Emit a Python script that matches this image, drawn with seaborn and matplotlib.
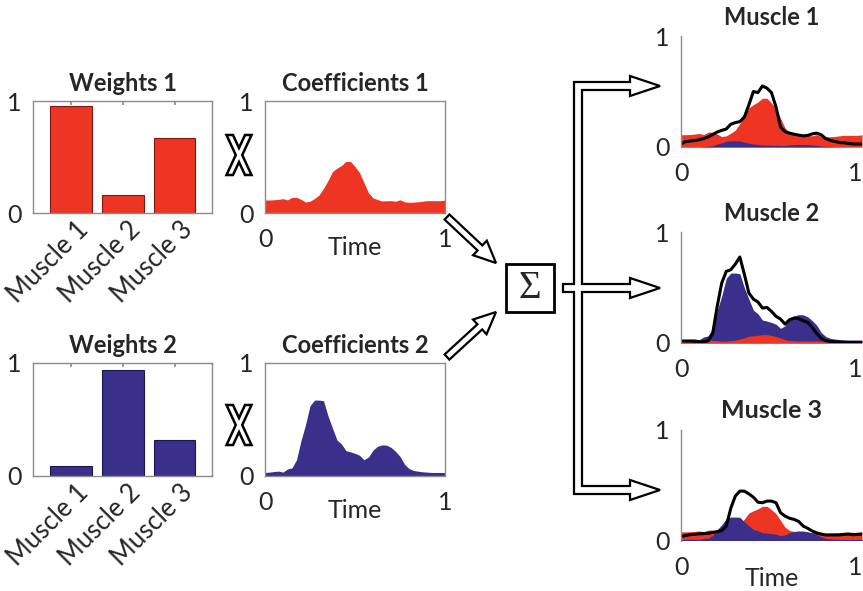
import numpy as np
import matplotlib
matplotlib.use("Agg")
import matplotlib.pyplot as plt
import matplotlib.transforms as mtransforms
from matplotlib.patches import FancyArrow, Polygon, Rectangle
import seaborn as sns

# ---------------- data ----------------
muscles = ["Muscle 1", "Muscle 2", "Muscle 3"]
weights_1 = [0.955, 0.163, 0.67]
weights_2 = [0.083, 0.94, 0.315]

time = np.linspace(0, 1, 41)

coef_1 = [0.116, 0.116, 0.118, 0.122, 0.128, 0.117, 0.140, 0.140, 0.122, 0.098,
          0.105, 0.130, 0.160, 0.220, 0.290, 0.370, 0.400, 0.425, 0.460, 0.460,
          0.415, 0.360, 0.270, 0.180, 0.135, 0.120, 0.107, 0.110, 0.110, 0.105,
          0.118, 0.100, 0.095, 0.097, 0.100, 0.105, 0.110, 0.110, 0.110, 0.110,
          0.115]

coef_2 = [0.027, 0.030, 0.035, 0.039, 0.030, 0.058, 0.068, 0.140, 0.310, 0.450,
          0.620, 0.670, 0.670, 0.665, 0.530, 0.420, 0.315, 0.280, 0.220, 0.210,
          0.197, 0.180, 0.140, 0.165, 0.225, 0.260, 0.272, 0.270, 0.250, 0.215,
          0.170, 0.100, 0.062, 0.045, 0.038, 0.033, 0.030, 0.027, 0.027, 0.027,
          0.027]

emg_muscle_1 = [0.027, 0.048, 0.053, 0.058, 0.065, 0.076, 0.090, 0.113, 0.135, 0.150,
                0.162, 0.205, 0.220, 0.228, 0.270, 0.380, 0.500, 0.490, 0.550, 0.530,
                0.490, 0.360, 0.180, 0.138, 0.125, 0.115, 0.107, 0.100, 0.105, 0.118,
                0.125, 0.110, 0.075, 0.060, 0.050, 0.040, 0.038, 0.032, 0.027, 0.027,
                0.027]

emg_muscle_2 = [0.018, 0.018, 0.018, 0.015, 0.012, 0.012, 0.020, 0.085, 0.330, 0.540,
                0.645, 0.660, 0.710, 0.775, 0.620, 0.450, 0.395, 0.370, 0.315, 0.320,
                0.285, 0.240, 0.215, 0.170, 0.210, 0.225, 0.220, 0.200, 0.185, 0.140,
                0.085, 0.042, 0.020, 0.013, 0.010, 0.008, 0.006, 0.006, 0.006, 0.006,
                0.006]

emg_muscle_3 = [0.035, 0.045, 0.052, 0.056, 0.060, 0.062, 0.065, 0.072, 0.080, 0.090,
                0.130, 0.290, 0.400, 0.445, 0.445, 0.420, 0.390, 0.345, 0.340, 0.355,
                0.355, 0.340, 0.250, 0.220, 0.200, 0.190, 0.172, 0.130, 0.110, 0.085,
                0.068, 0.058, 0.050, 0.050, 0.050, 0.050, 0.055, 0.058, 0.052, 0.055,
                0.058]

emg = [emg_muscle_1, emg_muscle_2, emg_muscle_3]

# ---------------- style ----------------
sns.set_theme(style="white")
plt.rcParams["font.family"] = ["Lato", "DejaVu Sans"]

RED = "#EE3524"
BLUE = "#3A2F8A"
SPINE = "#8C8C8C"

W, H = 863, 591
fig = plt.figure(figsize=(W / 100, H / 100), dpi=100)
fig.patch.set_facecolor("white")


def rect(l, t, r, b):
    return [l / W, 1 - b / H, (r - l) / W, (b - t) / H]


def boxed(ax):
    for s in ax.spines.values():
        s.set_visible(True)
        s.set_color(SPINE)
        s.set_linewidth(1.0)


def weights_panel(box, values, color, edge, title):
    ax = fig.add_axes(rect(*box))
    sns.barplot(x=muscles, y=values, color=color, saturation=1, width=0.8,
                edgecolor=edge, linewidth=0.8, ax=ax)
    ax.set_xlim(-0.73, 2.72)
    ax.set_ylim(0, 1)
    ax.set_yticks([0, 1])
    ax.set_yticklabels(["0", "1"], fontsize=18)
    ax.set_xticks([0, 1, 2])
    ax.set_xticklabels([])
    ax.tick_params(axis="x", direction="in", length=3, color=SPINE, top=True, bottom=True)
    ax.tick_params(axis="y", length=0, pad=8)
    ax.set_xlabel("")
    ax.set_ylabel("")
    boxed(ax)
    ax.set_title(title, fontsize=17, fontweight="bold", pad=7)
    trans = mtransforms.blended_transform_factory(ax.transData, ax.transAxes) + \
        mtransforms.ScaledTranslation(0.14, -0.13, fig.dpi_scale_trans)
    for i, name in enumerate(muscles):
        ax.text(i, 0, name, transform=trans, rotation=45, ha="right", va="center",
                rotation_mode="anchor", fontsize=18.5)
    return ax


def coef_panel(box, values, color, title):
    ax = fig.add_axes(rect(*box))
    ax.fill_between(time, 0, values, color=color, linewidth=0)
    ax.set_xlim(0, 1)
    ax.set_ylim(0, 1)
    ax.set_xticks([0, 1])
    ax.set_xticklabels(["0", "1"], fontsize=18)
    ax.set_yticks([0, 1])
    ax.set_yticklabels(["0", "1"], fontsize=18)
    ax.tick_params(axis="x", length=0, pad=11)
    ax.tick_params(axis="y", length=0, pad=8)
    boxed(ax)
    ax.set_title(title, fontsize=17, fontweight="bold", pad=7)
    ax.set_xlabel("Time", fontsize=18)
    ax.xaxis.set_label_coords(0.5, -0.31)
    ax.xaxis.label.set_va("center")
    return ax


weights_panel((33, 101, 212, 213), weights_1, RED, "#7a1a10", "Weights 1")
coef_panel((265, 101, 445, 213), coef_1, RED, "Coefficients 1")
weights_panel((33, 363, 212, 475.5), weights_2, BLUE, "#1c1650", "Weights 2")
coef_panel((265, 363, 445, 475.5), coef_2, BLUE, "Coefficients 2")

# reconstructed muscle activity: weighted synergies plus recorded EMG
muscle_boxes = [(681, 36, 862, 147), (681, 232, 862, 343), (681, 429.5, 862, 540.5)]
front_blue = [True, False, True]
c1 = np.asarray(coef_1)
c2 = np.asarray(coef_2)
for m, box in enumerate(muscle_boxes):
    ax = fig.add_axes(rect(*box))
    red_part = weights_1[m] * c1
    blue_part = weights_2[m] * c2
    layers = [(red_part, RED), (blue_part, BLUE)]
    if not front_blue[m]:
        layers = layers[::-1]
    for vals, col in layers:
        ax.fill_between(time, 0, vals, color=col, linewidth=0)
    sns.lineplot(x=time, y=emg[m], color="black", linewidth=2.2, ax=ax)
    ax.set_xlim(0, 1)
    ax.set_ylim(0, 1)
    ax.set_xticks([0, 1])
    ax.set_xticklabels(["0", "1"], fontsize=18)
    ax.get_xticklabels()[1].set_ha("right")
    ax.set_yticks([0, 1])
    ax.set_yticklabels(["0", "1"], fontsize=18)
    ax.tick_params(axis="x", length=0, pad=11)
    ax.tick_params(axis="y", length=0, pad=8)
    for s in ["top", "right", "bottom"]:
        ax.spines[s].set_visible(False)
    ax.spines["left"].set_visible(True)
    ax.spines["left"].set_color(SPINE)
    ax.spines["left"].set_linewidth(1.0)
    ax.set_ylabel("")
    ax.set_title(muscles[m], fontsize=18 if m == 2 else 17, fontweight="bold",
                 pad=8)
    if m == 2:
        ax.set_xlabel("Time", fontsize=18)
        ax.xaxis.set_label_coords(0.5, -0.34)
        ax.xaxis.label.set_va("center")
    else:
        ax.set_xlabel("")

# ---------------- diagram overlay (pixel coordinates) ----------------
ov = fig.add_axes([0, 0, 1, 1], zorder=10)
ov.set_xlim(0, W)
ov.set_ylim(H, 0)
ov.axis("off")
ov.patch.set_alpha(0)


def x_mark(cx, cy, w=12.5, h=20.0, t=6.5):
    s = (w - t) / (2 * w - t)
    d = h - 2 * h * s
    e = t / 2
    pts = [(cx - w, cy - h), (cx - w + t, cy - h), (cx, cy - d), (cx + w - t, cy - h),
           (cx + w, cy - h), (cx + e, cy), (cx + w, cy + h), (cx + w - t, cy + h),
           (cx, cy + d), (cx - w + t, cy + h), (cx - w, cy + h), (cx - e, cy)]
    ov.add_patch(Polygon(pts, closed=True, fc="white", ec="black", lw=1.8, joinstyle="miter"))


x_mark(239, 155)
x_mark(239, 425)

# arrows into the summation
for (x0, y0), (x1, y1) in [((447, 217), (496, 263)), ((447, 357), (496, 312))]:
    ov.add_patch(FancyArrow(x0, y0, x1 - x0, y1 - y0, width=7, head_width=20,
                            head_length=22, length_includes_head=True,
                            fc="white", ec="black", lw=1.6))

# summation box
ov.add_patch(Rectangle((506, 264), 48, 48, fc="white", ec="black", lw=2))
ov.text(530, 288, "\u03a3", fontsize=28, family=["Liberation Serif", "DejaVu Serif"],
        ha="center", va="center")

# branching output arrows
xl, xr, hw = 574, 582, 4
tip, base, hh = 660, 630, 10
ys = [86, 288, 490]
pts = [(xl, ys[0] - hw)]
for i, y in enumerate(ys):
    pts += [(base, y - hw), (base, y - hh), (tip, y), (base, y + hh), (base, y + hw)]
    if i < 2:
        pts += [(xr, y + hw), (xr, ys[i + 1] - hw)]
pts += [(xl, ys[2] + hw), (xl, ys[1] + hw), (563, ys[1] + hw), (563, ys[1] - hw),
        (xl, ys[1] - hw)]
ov.add_patch(Polygon(pts, closed=True, fc="white", ec="black", lw=1.6, joinstyle="miter"))

fig.savefig("out.png", dpi=100, facecolor="white")
